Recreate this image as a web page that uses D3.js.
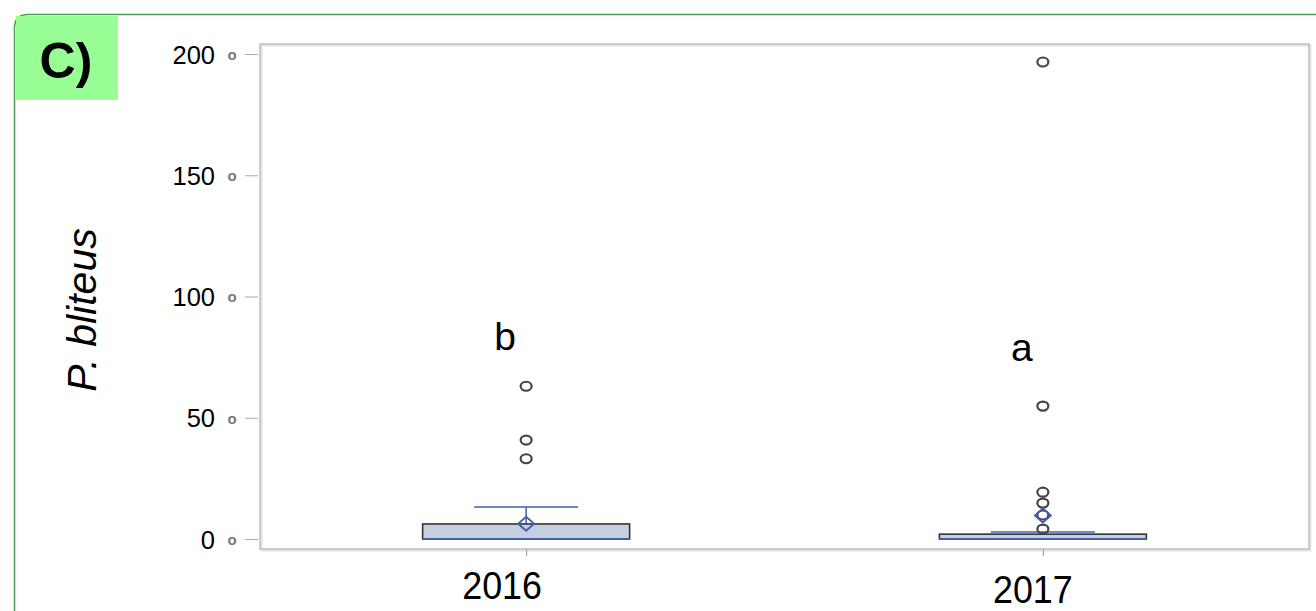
<!DOCTYPE html>
<html><head><meta charset="utf-8">
<script src="https://cdn.jsdelivr.net/npm/d3@7"></script>
<style>body{margin:0;background:#fff}svg{display:block}</style>
</head><body>
<script>
const categories = ["2016", "2017"];
const q1 = [0, 0];
const medians = [0, 0];
const q3 = [6.2, 2.0];
const whiskerHigh = [13.2, 2.9];
const means = [6.3, 9.7];
const outliers = [[63, 40.8, 33.1], [196.7, 54.8, 19.3, 14.8, 9.9, 4.1]];
const letters = ["b", "a"];
const yTicks = [0, 50, 100, 150, 200];

(function () {
const W = 1316, H = 611;
const svg = d3.select("body").append("svg").attr("width", W).attr("height", H);
const font = "'Liberation Sans', Arial, sans-serif";

// green frame
svg.append("path")
  .attr("d", `M14.5,${H+2} L14.5,28 Q14.5,14.5 28,14.5 L${W+2},14.5`)
  .attr("fill", "none").attr("stroke", "#4e9a4e").attr("stroke-width", 1.5);
svg.append("rect").attr("x", 16).attr("y", 16).attr("width", 102).attr("height", 84).attr("fill", "#99fd96");
svg.append("text").attr("x", 66).attr("y", 78).attr("text-anchor", "middle")
  .attr("font-family", font).attr("font-weight", "bold").attr("font-size", 50).text("C)");

const pl = 260, pr = 1309, pt = 44, pb = 549;
const y = d3.scaleLinear().domain([0, 200]).range([539, 54]);
const x = d3.scalePoint().domain(categories).range([pl, pr]).padding(0.515);

// plot frame
svg.append("rect").attr("x", pl + 1.5).attr("y", pt + 1.5).attr("width", pr - pl).attr("height", pb - pt)
  .attr("fill", "none").attr("stroke", "#e4e4e4").attr("stroke-width", 2);
svg.append("rect").attr("x", pl).attr("y", pt).attr("width", pr - pl).attr("height", pb - pt)
  .attr("fill", "none").attr("stroke", "#b4b4b4").attr("stroke-width", 1.3);

// y axis
const yAxis = d3.axisLeft(y).tickValues(yTicks).tickSize(13).tickPadding(0).tickFormat("");
const ya = svg.append("g").attr("transform", `translate(${pl - 2},0)`).call(yAxis);
ya.select(".domain").remove();
ya.selectAll(".tick line").attr("stroke", "#aaa");
ya.selectAll(".tick").append("text").attr("x", -43).attr("dy", "0.36em").attr("text-anchor", "end")
  .attr("fill", "#000").attr("font-family", font).attr("font-size", 25.5).text(d => d);
ya.selectAll(".tick").append("text").attr("x", -26).attr("dy", "0.36em").attr("text-anchor", "middle")
  .attr("fill", "#777").attr("font-family", font).attr("font-weight", "bold").attr("font-size", 15).text("o");

// x axis
const xAxis = d3.axisBottom(x).tickSize(7).tickFormat("");
const xa = svg.append("g").attr("transform", `translate(0,${pb})`).call(xAxis);
xa.select(".domain").remove();
xa.selectAll(".tick line").attr("stroke", "#999");
const xLabelY = [599, 603];
const xLabelDx = [-24, -10];
categories.forEach((c, i) => {
  svg.append("text").attr("x", x(c) + xLabelDx[i]).attr("y", xLabelY[i]).attr("text-anchor", "middle")
    .attr("font-family", font).attr("font-size", 37).attr("transform", `scale(0.97,1.05)`)
    .attr("transform-origin", `${x(c) + xLabelDx[i]} ${xLabelY[i]}`).text(c);
});

// y title
svg.append("text").attr("transform", "translate(96,310) rotate(-90)").attr("text-anchor", "middle")
  .attr("font-family", font).attr("font-style", "italic").attr("font-size", 41).text("P. bliteus");

const boxW = 207, capW = 104;
const blue = "#3f5fae";
categories.forEach((c, i) => {
  const cx = x(c);
  const g = svg.append("g");
  g.append("line").attr("x1", cx).attr("x2", cx).attr("y1", y(q3[i])).attr("y2", y(whiskerHigh[i]))
    .attr("stroke", blue).attr("stroke-width", 1.5);
  g.append("line").attr("x1", cx - capW / 2).attr("x2", cx + capW / 2).attr("y1", y(whiskerHigh[i])).attr("y2", y(whiskerHigh[i]))
    .attr("stroke", blue).attr("stroke-width", 1.5);
  g.append("rect").attr("x", cx - boxW / 2).attr("y", y(q3[i])).attr("width", boxW).attr("height", y(q1[i]) - y(q3[i]))
    .attr("fill", "#c6cfe1").attr("stroke", "#333").attr("stroke-width", 1.6);
  g.append("line").attr("x1", cx - boxW / 2).attr("x2", cx + boxW / 2).attr("y1", y(medians[i])).attr("y2", y(medians[i]))
    .attr("stroke", blue).attr("stroke-width", 1.8);
  g.selectAll("ellipse").data(outliers[i]).join("ellipse")
    .attr("cx", cx).attr("cy", d => y(d)).attr("rx", 5.5).attr("ry", 4.5)
    .attr("fill", "none").attr("stroke", "#444").attr("stroke-width", 2.2);
  const my = y(means[i]), d = 7;
  g.append("path").attr("d", `M${cx},${my - d} L${cx + d + 1},${my} L${cx},${my + d} L${cx - d - 1},${my} Z`)
    .attr("fill", "none").attr("stroke", blue).attr("stroke-width", 1.8);
});

const letterY = [350, 361];
const letterDx = [-21, -21];
categories.forEach((c, i) => {
  svg.append("text").attr("x", x(c) + letterDx[i]).attr("y", letterY[i]).attr("text-anchor", "middle")
    .attr("font-family", font).attr("font-size", 39).text(letters[i]);
});
})();
</script>
</body></html>
